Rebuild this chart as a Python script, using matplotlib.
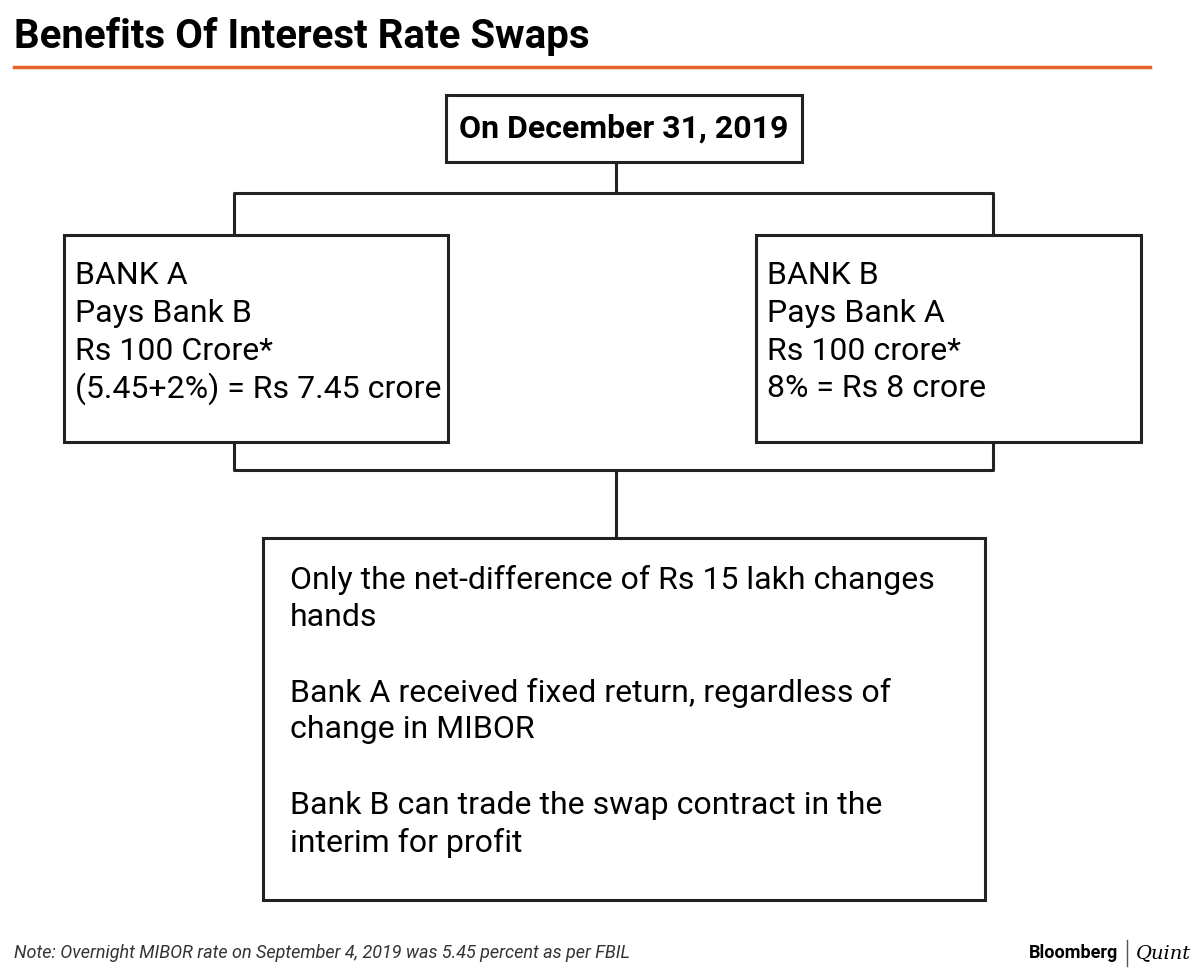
import matplotlib
matplotlib.use('Agg')
import matplotlib.pyplot as plt
from matplotlib.patches import Rectangle

FONT = ['Liberation Sans Narrow', 'Roboto', 'DejaVu Sans']

title = "Benefits Of Interest Rate Swaps"
top_label = "On December 31, 2019"
bank_a_lines = ["BANK A", "Pays Bank B", "Rs 100 Crore*", "(5.45+2%) = Rs 7.45 crore"]
bank_b_lines = ["BANK B", "Pays Bank A", "Rs 100 crore*", "8% = Rs 8 crore"]
result_lines = ["Only the net-difference of Rs 15 lakh changes", "hands", "",
                "Bank A received fixed return, regardless of", "change in MIBOR", "",
                "Bank B can trade the swap contract in the", "interim for profit"]
note = "Note: Overnight MIBOR rate on September 4, 2019 was 5.45 percent as per FBIL"

fig = plt.figure(figsize=(12, 9.73), dpi=100)
ax = fig.add_axes([0, 0, 1, 1])
ax.set_xlim(0, 1200)
ax.set_ylim(973, 0)
ax.axis('off')

ax.text(14, 36, title, fontsize=29, fontweight='bold', family=FONT, va='center')
ax.plot([14, 1150], [67, 67], color='#e8622c', lw=2.5)

def box(x0, y0, x1, y1):
    ax.add_patch(Rectangle((x0, y0), x1 - x0, y1 - y0, fill=False, ec='#222222', lw=2.2))

def line(xs, ys):
    ax.plot(xs, ys, color='#222222', lw=2.2, solid_capstyle='butt')

box(446, 95, 802, 162)
ax.text(624, 129, top_label, fontsize=23, fontweight='bold', family=FONT, ha='center', va='center')
line([616, 616], [162, 193])
line([234, 234, 993, 993], [235, 193, 193, 235])

box(64, 235, 448, 442)
box(756, 235, 1141, 442)
for i, s in enumerate(bank_a_lines):
    ax.text(75, 276 + i * 37.5, s, fontsize=23, family=FONT, va='center')
for i, s in enumerate(bank_b_lines):
    ax.text(767, 276 + i * 37.5, s, fontsize=23, family=FONT, va='center')

line([234, 234, 993, 993], [442, 470, 470, 442])
line([616, 616], [470, 538])

box(263, 538, 985, 900)
for i, s in enumerate(result_lines):
    ax.text(290, 580 + i * 37.5, s, fontsize=23, family=FONT, va='center')

ax.text(14, 953, note, fontsize=13, style='italic', family=FONT, color='#333333', va='center')
ax.text(1118, 953, "Bloomberg", fontsize=13, fontweight='bold', family=FONT, ha='right', va='center')
ax.plot([1127, 1127], [940, 966], color='#555555', lw=1)
ax.text(1136, 953, "Quint", fontsize=14, style='italic', family='DejaVu Serif', va='center')

fig.savefig('out.png', dpi=100)
